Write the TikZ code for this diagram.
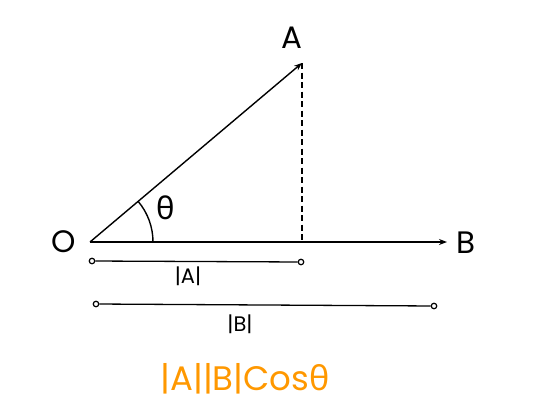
\documentclass[tikz,border=0pt]{standalone}
\usepackage{fontspec}
\setmainfont{Poppins}
\newfontfamily\greekfont{Noto Sans}
\usetikzlibrary{arrows.meta,positioning}

\begin{document}
\begin{tikzpicture}[
    x=1pt, y=-1pt,
    line width=1.4pt,
    vec/.style={-{Stealth[length=8pt,width=6pt]}},
    point/.style={font=\fontsize{31}{34}\selectfont},
    endpt/.style={circle, draw, fill=white, line width=1.2pt, inner sep=0pt, minimum size=5.5pt},
    measlabel/.style={font=\fontsize{21}{24}\selectfont}
  ]
  \useasboundingbox (0,0) rectangle (539,418);
  % points
  \coordinate (O) at (90,242);
  \coordinate (Atip) at (302,63);
  \coordinate (Btip) at (447,242);
  \coordinate (foot) at (302,242);
  \node (lO) [point] at (64,242) {O};
  \node (lA) [point] at (292,38) {A};
  \node (lB) [point] at (466,243) {B};
  % vectors
  \draw [vec] (O) -- (Atip);
  \draw [vec] (O) -- (Btip);
  \draw [dash pattern=on 6pt off 3.5pt] (Atip) -- (foot);
  % angle
  \draw (O) ++(0:63) arc[start angle=0, end angle=-40.2, radius=63];
  \node (theta) [point] at (166,208) {\greekfont θ};
  % lengths
  \node (a1) [endpt] at (92,261) {};
  \node (a2) [endpt] at (301,262) {};
  \node (b1) [endpt] at (96,304) {};
  \node (b2) [endpt] at (434,306) {};
  \draw [line width=1.3pt] (a1) -- (a2);
  \draw [line width=1.3pt] (b1) -- (b2);
  \node (lenA) [measlabel] at (188,276) {|A|};
  \node (lenB) [measlabel] at (240,324) {|B|};
  % result
  \node (dot) [font=\fontsize{34}{38}\selectfont, text={rgb,255:red,255;green,152;blue,0}]
    at (245,379) {|A||B|Cos{\greekfont θ}};
\end{tikzpicture}
\end{document}
